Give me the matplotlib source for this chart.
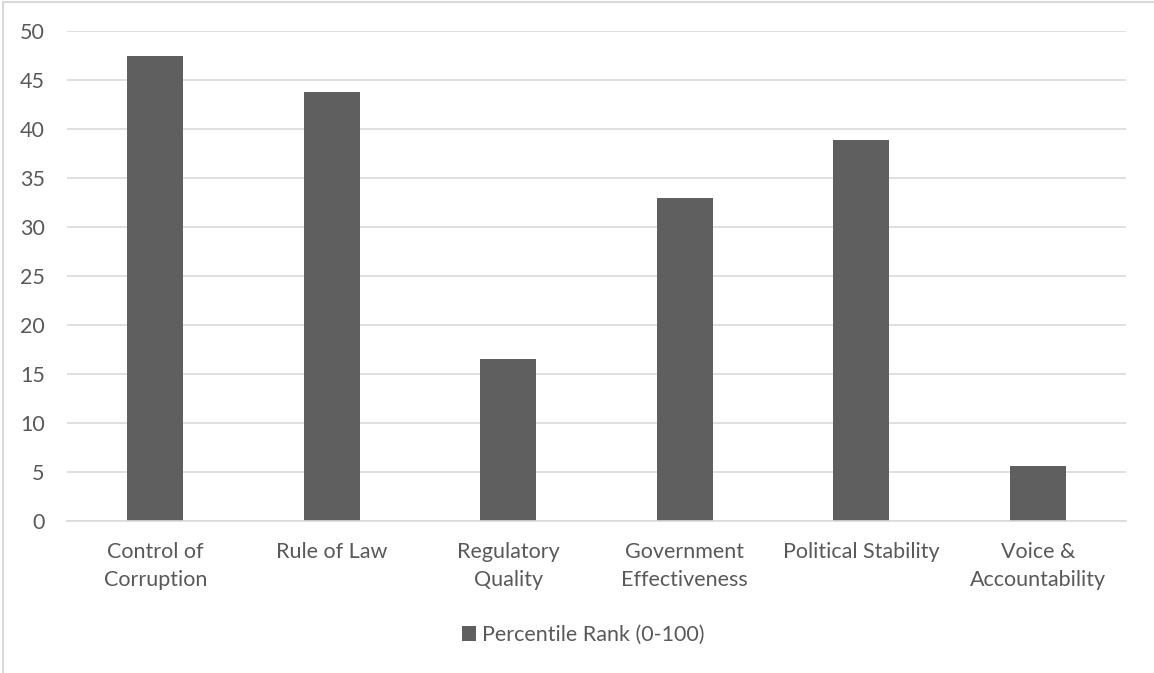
import matplotlib as mpl
mpl.use('Agg')
import matplotlib.pyplot as plt
from matplotlib.lines import Line2D

# indicator names and percentile ranks
categories = ['Control of\nCorruption', 'Rule of Law', 'Regulatory\nQuality',
              'Government\nEffectiveness', 'Political Stability',
              'Voice &\nAccountability']
values = [47.4, 43.8, 16.5, 33.0, 38.9, 5.6]
series_name = 'Percentile Rank (0-100)'
yticks = [0, 5, 10, 15, 20, 25, 30, 35, 40, 45, 50]

text_col = '#595959'
grid_col = '#d9d9d9'
bar_col = '#5f5f5f'
fs = 15.5

plt.rcParams['font.family'] = ['Lato', 'DejaVu Sans']

fig = plt.figure(figsize=(11.54, 6.73), dpi=100)
ax = fig.add_axes([67/1154, 1 - 521/673, (1126 - 67)/1154, (521 - 31)/673])

x = range(len(categories))
ax.bar(x, values, width=0.315, color=bar_col, label=series_name, zorder=3)

ax.set_xlim(-0.5, len(categories) - 0.5)
ax.set_ylim(0, 50)
ax.set_yticks(yticks)
ax.set_xticks(list(x))
ax.set_xticklabels(categories, linespacing=1.5)
ax.tick_params(axis='both', length=0, labelsize=fs, colors=text_col)
ax.tick_params(axis='y', pad=16)
ax.tick_params(axis='x', pad=15)
ax.yaxis.grid(True, color=grid_col, linewidth=1.2, zorder=0)
for s in ['top', 'left', 'right']:
    ax.spines[s].set_visible(False)
ax.spines['bottom'].set_color(grid_col)
ax.spines['bottom'].set_linewidth(1.2)
ax.spines['bottom'].set_zorder(4)

leg = fig.legend(loc='center', bbox_to_anchor=(583/1154, 1 - 635/673), frameon=False,
                 fontsize=fs, handlelength=0.65, handleheight=0.65, handletextpad=0.3)
for t in leg.get_texts():
    t.set_color(text_col)

# chart frame: only the top and left edges are inside the picture
fig.add_artist(Line2D([3/1154, 1], [1 - 1.5/673, 1 - 1.5/673], transform=fig.transFigure,
                      color=grid_col, linewidth=1.5))
fig.add_artist(Line2D([3/1154, 3/1154], [0, 1 - 1.5/673], transform=fig.transFigure,
                      color=grid_col, linewidth=1.5))

fig.savefig('out.png', dpi=100)
